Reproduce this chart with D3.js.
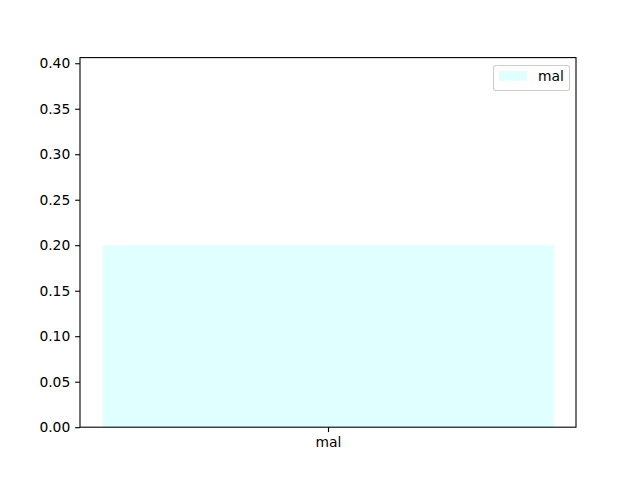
<!DOCTYPE html>
<html><head><meta charset="utf-8">
<script src="https://cdn.jsdelivr.net/npm/d3@7"></script>
<style>body{margin:0;background:#fff}svg{display:block}text{font-family:"DejaVu Sans",sans-serif}</style>
</head><body>
<script>
const categories = ["mal"];
const values = [0.2];
const seriesName = "mal";
const yTicks = [0,0.05,0.1,0.15,0.2,0.25,0.3,0.35,0.4];

const W=640,H=480, m={l:80,r:64,t:57.6,b:52.8};
const FS=13.89, TK=4.86;
const svg=d3.select("body").append("svg").attr("width",W).attr("height",H);
const iw=W-m.l-m.r, ih=H-m.t-m.b;
const g=svg.append("g").attr("transform",`translate(${m.l},${m.t})`);
const x=d3.scaleLinear().domain([-0.44,0.44]).range([0,iw]);
const y=d3.scaleLinear().domain([0,0.4062]).range([ih,0]);

g.selectAll("rect.bar").data(values).join("rect").attr("class","bar")
 .attr("x",(d,i)=>x(i-0.4)).attr("width",(d,i)=>x(i+0.4)-x(i-0.4))
 .attr("y",d=>y(d)).attr("height",d=>y(0)-y(d)).attr("fill","#e0ffff");

const ya=g.append("g").call(d3.axisLeft(y).tickValues(yTicks).tickFormat(d3.format(".2f")).tickSize(TK).tickPadding(TK));
const xa=g.append("g").attr("transform",`translate(0,${ih})`)
 .call(d3.axisBottom(x).tickValues(categories.map((c,i)=>i)).tickFormat(i=>categories[i]).tickSize(TK).tickPadding(TK));
[ya,xa].forEach(a=>{a.select(".domain").remove();a.selectAll("text").attr("font-size",FS).attr("fill","#000").style("font-family","DejaVu Sans");a.selectAll("line").attr("stroke","#000").attr("stroke-width",1.1);});

g.append("rect").attr("width",iw).attr("height",ih).attr("fill","none").attr("stroke","#000").attr("stroke-width",1.1);

const lg=svg.append("g");
lg.append("rect").attr("x",493.5).attr("y",65.5).attr("width",76).attr("height",25).attr("rx",2.5)
 .attr("fill","#fff").attr("fill-opacity",0.8).attr("stroke","#ccc").attr("stroke-width",1.1);
lg.append("rect").attr("x",499).attr("y",71).attr("width",27.8).attr("height",9.7).attr("fill","#e0ffff");
lg.append("text").attr("x",538).attr("y",81).attr("font-size",FS).text(seriesName);
</script>
</body></html>
